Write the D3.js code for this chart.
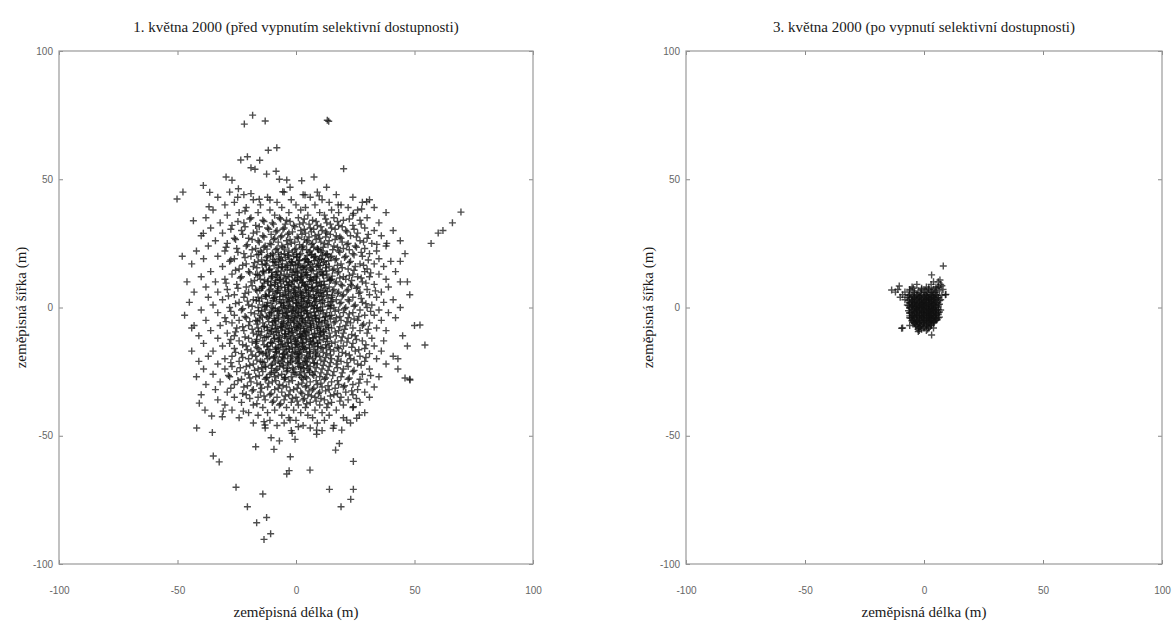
<!DOCTYPE html>
<html>
<head>
<meta charset="utf-8">
<script src="https://cdn.jsdelivr.net/npm/d3@7"></script>
<style>
  body { margin: 0; background: #fff; }
  .tick text { font-family: "Liberation Sans", Arial, sans-serif; font-size: 10px; fill: #666; }
  .ttl { font-family: "Liberation Serif", "Times New Roman", serif; fill: #1a1a1a; }
</style>
</head>
<body>
<div id="chart"></div>
<script>
// popisky
var titles = ["1. května 2000 (před vypnutím selektivní dostupnosti)",
              "3. května 2000 (po vypnutí selektivní dostupnosti)"];
var xLabel = "zeměpisná délka (m)";
var yLabel = "zeměpisná šířka (m)";
var tickVals = [-100, -50, 0, 50, 100];

// 1. kvetna - radky [y, x1, x2, ...] (odhad z obrazku)
var beforeRows = [
  [45, -28, -5, 9], [44, -22, 3, 17], [43, -33, -12, 6, 24], [42, -18, -2, 11, 31],
  [41, -26, -8, 14, 28], [40, -30, -15, 0, 8, 19], [39, -21, -6, 4, 22, 33],
  [38, -35, -11, 2, 15, 26], [37, -24, -16, -3, 10, 18, 38], [36, -29, -9, 5, 12, 24],
  [35, -38, -19, -7, 1, 16, 30], [34, -14, -4, 7, 20, 27], [33, -32, -22, -10, 3, 13, 35],
  [32, -27, -17, -1, 9, 18, 24], [31, -36, -12, -5, 6, 15, 29], [30, -23, -8, 2, 11, 21, 33, 41],
  [29, -31, -18, -3, 4, 13, 26], [28, -40, -14, -6, 8, 17, 23, 36], [27, -26, -20, -9, 1, 10, 19, 30],
  [26, -34, -16, -4, 5, 14, 27, 44], [25, -29, -11, -2, 7, 12, 22, 32],
  [24, -37, -21, -13, -6, 3, 16, 25, 38], [23, -25, -17, -8, 0, 9, 20, 29],
  [22, -42, -30, -15, -3, 6, 11, 18, 34], [21, -22, -10, -5, 2, 13, 24, 31, 46],
  [20, -33, -19, -12, -1, 8, 15, 21, 28], [19, -39, -26, -7, 4, 10, 17, 35],
  [18, -28, -16, -9, -2, 5, 12, 23, 40], [17, -44, -21, -13, -4, 1, 9, 19, 27, 33],
  [16, -31, -18, -6, 3, 7, 14, 25, 37], [15, -24, -11, -1, 6, 16, 22, 30],
  [14, -36, -20, -14, -8, 0, 11, 18, 29, 42], [13, -27, -17, -5, 4, 9, 13, 24, 35],
  [12, -40, -23, -10, -3, 2, 8, 20, 26, 31], [11, -30, -15, -7, 0, 6, 15, 21, 38],
  [10, -46, -34, -19, -12, -4, 3, 10, 17, 28, 44], [9, -25, -9, -2, 5, 12, 19, 23, 33],
  [8, -38, -21, -14, -6, 1, 7, 14, 26, 39], [7, -29, -17, -11, -3, 4, 9, 16, 22, 30],
  [6, -43, -33, -20, -8, -1, 2, 11, 18, 27, 36], [5, -26, -13, -5, 0, 6, 13, 20, 31, 48],
  [4, -37, -22, -16, -9, -2, 3, 8, 15, 24, 34], [3, -31, -18, -7, -4, 1, 10, 17, 22, 41],
  [2, -45, -24, -12, -6, 0, 5, 12, 19, 28, 37], [1, -35, -20, -14, -3, 2, 7, 14, 25, 32],
  [0, -28, -16, -10, -5, 0, 4, 9, 16, 21, 30, 44], [-1, -40, -23, -13, -7, -1, 3, 11, 18, 27, 35],
  [-2, -33, -19, -11, -4, 1, 6, 13, 20, 24, 39], [-3, -47, -26, -15, -8, -2, 2, 8, 15, 29, 33],
  [-4, -30, -21, -12, -5, 0, 5, 10, 17, 22, 42], [-5, -38, -24, -17, -9, -3, 3, 7, 12, 19, 26, 36],
  [-6, -27, -14, -6, -1, 4, 11, 16, 23, 31], [-7, -43, -32, -20, -10, -4, 1, 6, 13, 21, 28, 50],
  [-8, -25, -16, -8, -2, 2, 9, 15, 24, 34], [-9, -36, -22, -12, -6, 0, 5, 10, 18, 27, 38],
  [-10, -29, -18, -11, -3, 3, 8, 14, 20, 30], [-11, -41, -26, -15, -7, -1, 4, 12, 17, 25, 45],
  [-12, -33, -20, -9, -4, 2, 7, 13, 22, 32], [-13, -24, -14, -6, 0, 6, 10, 19, 28, 37],
  [-14, -39, -28, -17, -10, -2, 3, 9, 15, 24], [-15, -31, -21, -12, -5, 1, 8, 14, 20, 33, 47],
  [-16, -26, -16, -8, -3, 4, 11, 18, 29], [-17, -44, -35, -19, -11, -4, 2, 9, 16, 25, 36],
  [-18, -23, -14, -7, 0, 6, 13, 21, 31], [-19, -37, -27, -17, -9, -2, 5, 10, 18, 27, 41],
  [-20, -30, -20, -12, -5, 1, 7, 15, 23, 34], [-21, -41, -24, -15, -6, 0, 4, 12, 19, 29],
  [-22, -33, -18, -10, -3, 3, 9, 17, 26, 38], [-23, -27, -21, -13, -7, 1, 6, 14, 22],
  [-24, -39, -30, -16, -8, -1, 5, 11, 20, 31, 43], [-25, -25, -14, -4, 2, 8, 16, 24],
  [-26, -35, -20, -11, -6, 0, 7, 13, 28], [-27, -42, -28, -17, -9, -2, 4, 10, 19, 35],
  [-28, -23, -13, -5, 3, 12, 22, 27, 48], [-29, -32, -19, -10, -3, 6, 15, 30],
  [-30, -38, -26, -15, -7, 1, 9, 18, 24], [-31, -22, -12, -4, 4, 11, 20, 33],
  [-32, -34, -18, -9, -1, 7, 14, 26], [-33, -29, -15, -6, 2, 10, 21, 29],
  [-34, -40, -21, -11, -3, 5, 16, 24], [-35, -26, -16, -8, 0, 8, 19, 31],
  [-36, -33, -13, -5, 3, 12, 22], [-37, -23, -10, -2, 6, 15, 27],
  [-38, -30, -18, -7, 1, 10, 20], [-39, -14, -4, 4, 13, 24], [-40, -27, -9, -1, 8, 17],
  [-41, -20, -12, 2, 11, 29], [-42, -16, -6, 5, 14], [-43, -24, -3, 7, 20],
  [-44, -11, 0, 12], [-45, -18, -5, 9, 23], [-46, -8, 3, 16], [-47, -13, 6], [-48, -2, 11]
];
// 1. kvetna - hustsi stred, mezilehle radky
var beforeCore = [
  [34.5, -19.5, -6.5, 3.5, 12.5, 22.5], [33.5, -24.5, -13.5, -2.5, 8.5, 17.5],
  [32.5, -9.5, -4.5, 1.5, 5.5, 14.5, 27.5], [31.5, -21.5, -15.5, -0.5, 10.5, 19.5],
  [30.5, -27.5, -11.5, -5.5, 3.5, 7.5, 16.5, 24.5], [29.5, -16.5, -8.5, -1.5, 6.5, 12.5, 21.5],
  [28.5, -22.5, -10.5, -3.5, 2.5, 9.5, 14.5, 30.5], [27.5, -13.5, -6.5, 0.5, 5.5, 12.5, 18.5, 25.5],
  [26.5, -25.5, -18.5, -9.5, -2.5, 3.5, 8.5, 16.5], [25.5, -15.5, -7.5, -0.5, 4.5, 10.5, 19.5, 28.5],
  [24.5, -20.5, -10.5, -3.5, 1.5, 6.5, 13.5, 21.5], [23.5, -29.5, -13.5, -5.5, 2.5, 7.5, 11.5, 17.5, 25.5],
  [22.5, -18.5, -8.5, -0.5, 4.5, 9.5, 15.5, 22.5], [21.5, -24.5, -14.5, -7.5, -1.5, 5.5, 10.5, 18.5, 27.5],
  [20.5, -16.5, -9.5, -3.5, 1.5, 6.5, 12.5, 24.5], [19.5, -21.5, -12.5, -4.5, 0.5, 7.5, 14.5, 20.5],
  [18.5, -27.5, -14.5, -6.5, 1.5, 3.5, 9.5, 16.5, 30.5], [17.5, -17.5, -8.5, -1.5, 5.5, 11.5, 22.5],
  [16.5, -22.5, -12.5, -3.5, 0.5, 9.5, 17.5, 28.5], [15.5, -16.5, -7.5, -4.5, 2.5, 4.5, 12.5, 19.5],
  [14.5, -25.5, -11.5, -2.5, 6.5, 15.5, 24.5], [13.5, -19.5, -13.5, -8.5, 0.5, 2.5, 10.5, 17.5, 31.5],
  [12.5, -15.5, -6.5, -0.5, 4.5, 11.5, 22.5], [11.5, -23.5, -10.5, -4.5, 2.5, 8.5, 13.5, 18.5, 27.5],
  [10.5, -17.5, -8.5, -1.5, 0.5, 6.5, 14.5, 23.5], [9.5, -29.5, -13.5, -6.5, 2.5, 8.5, 16.5, 29.5],
  [8.5, -18.5, -10.5, -3.5, 3.5, 10.5, 19.5, 23.5], [7.5, -24.5, -14.5, -7.5, -0.5, 6.5, 12.5, 25.5],
  [6.5, -16.5, -11.5, -4.5, 4.5, 8.5, 15.5, 21.5, 33.5], [5.5, -21.5, -8.5, -2.5, 2.5, 9.5, 17.5, 26.5],
  [4.5, -28.5, -12.5, -5.5, 0.5, 5.5, 11.5, 19.5], [3.5, -14.5, -9.5, -1.5, 3.5, 7.5, 13.5, 27.5],
  [2.5, -20.5, -15.5, -3.5, 2.5, 8.5, 15.5, 22.5], [1.5, -25.5, -10.5, -6.5, 0.5, 4.5, 10.5, 18.5, 29.5],
  [0.5, -18.5, -12.5, -2.5, 2.5, 6.5, 13.5, 24.5], [-0.5, -22.5, -9.5, -4.5, 0.5, 7.5, 14.5, 20.5],
  [-1.5, -27.5, -14.5, -7.5, -1.5, 3.5, 9.5, 16.5, 31.5], [-2.5, -17.5, -10.5, -5.5, 4.5, 11.5, 22.5],
  [-3.5, -21.5, -12.5, -3.5, 0.5, 6.5, 12.5, 18.5, 26.5], [-4.5, -15.5, -7.5, -1.5, 2.5, 8.5, 14.5, 24.5],
  [-5.5, -29.5, -19.5, -11.5, -5.5, 1.5, 9.5, 16.5, 21.5], [-6.5, -16.5, -8.5, -3.5, 2.5, 7.5, 13.5, 28.5],
  [-7.5, -22.5, -13.5, -6.5, -0.5, 4.5, 10.5, 18.5], [-8.5, -18.5, -10.5, -4.5, 0.5, 6.5, 12.5, 20.5, 30.5],
  [-9.5, -25.5, -14.5, -7.5, -1.5, 3.5, 11.5, 16.5], [-10.5, -16.5, -9.5, -4.5, 1.5, 5.5, 10.5, 23.5],
  [-11.5, -21.5, -12.5, -2.5, 2.5, 8.5, 14.5, 19.5], [-12.5, -27.5, -16.5, -7.5, -0.5, 4.5, 11.5, 25.5],
  [-13.5, -18.5, -10.5, -3.5, 2.5, 7.5, 16.5, 21.5], [-14.5, -22.5, -13.5, -6.5, 0.5, 5.5, 12.5, 29.5],
  [-15.5, -16.5, -8.5, -1.5, 3.5, 10.5, 17.5, 23.5], [-16.5, -20.5, -11.5, -5.5, 1.5, 7.5, 14.5, 26.5],
  [-17.5, -25.5, -15.5, -8.5, -1.5, 4.5, 11.5, 19.5], [-18.5, -18.5, -12.5, -3.5, 2.5, 8.5, 14.5, 22.5],
  [-19.5, -22.5, -9.5, -5.5, 0.5, 5.5, 12.5, 29.5], [-20.5, -16.5, -7.5, -1.5, 3.5, 10.5, 17.5, 24.5],
  [-21.5, -27.5, -13.5, -3.5, 1.5, 7.5, 14.5, 21.5], [-22.5, -19.5, -10.5, -5.5, 4.5, 11.5, 27.5],
  [-23.5, -23.5, -14.5, -1.5, 2.5, 8.5, 17.5], [-24.5, -17.5, -8.5, -3.5, 5.5, 13.5, 24.5],
  [-25.5, -21.5, -10.5, -0.5, 3.5, 10.5, 19.5], [-26.5, -28.5, -15.5, -7.5, 1.5, 7.5, 15.5, 31.5],
  [-27.5, -19.5, -12.5, -4.5, 4.5, 12.5, 22.5], [-28.5, -24.5, -8.5, -1.5, 8.5, 17.5],
  [-29.5, -16.5, -11.5, 2.5, 10.5, 26.5], [-30.5, -20.5, -5.5, 4.5, 13.5, 20.5],
  [-31.5, -27.5, -14.5, -7.5, 0.5, 7.5, 16.5], [-32.5, -18.5, -2.5, 5.5, 12.5, 23.5],
  [-33.5, -22.5, -10.5, 2.5, 9.5, 17.5], [-34.5, -13.5, -4.5, 6.5, 14.5],
  [-35.5, -19.5, -1.5, 3.5, 10.5, 25.5], [-36.5, -9.5, 0.5, 8.5, 18.5], [-37.5, -16.5, -6.5, 4.5, 13.5],
  // nejhustsi cast
  [20.25, -10.75, -3.25, 4.75, 11.25], [19.75, -7.25, 0.25, 8.25],
  [18.25, -12.25, -5.75, 1.25, 7.75, 13.75], [17.75, -9.75, -1.75, 5.25],
  [16.25, -9.25, -2.25, 3.75, 10.25], [15.75, -5.75, 1.75, 8.75],
  [14.25, -13.75, -6.25, 0.75, 7.25, 12.75], [13.75, -10.25, -1.25, 4.25],
  [12.25, -10.25, -3.75, 2.25, 8.75, 15.25], [11.75, -7.75, 0.75, 6.25],
  [10.25, -11.75, -5.25, -0.75, 5.75, 11.75], [9.75, -8.75, -2.75, 2.75, 8.75],
  [8.25, -14.25, -7.75, -1.25, 4.25, 9.25], [7.75, -4.75, 1.25, 6.75],
  [6.25, -9.75, -3.25, 1.75, 7.25, 13.25], [5.75, -6.75, -0.25, 4.25, 10.25],
  [4.25, -12.75, -6.75, -0.25, 5.25, 10.75], [3.75, -9.25, -3.25, 2.25, 7.75],
  [2.25, -8.25, -2.75, 3.25, 8.25, 14.75], [1.75, -5.25, 0.25, 5.75],
  [0.25, -13.25, -6.25, -1.25, 4.75, 11.25], [-0.25, -8.75, -3.25, 2.25, 8.75],
  [-1.75, -10.25, -3.75, 1.25, 7.75], [-2.25, -5.75, -0.25, 4.75],
  [-3.75, -14.25, -7.25, -0.75, 5.25, 12.25], [-4.25, -9.25, -3.25, 2.75, 8.25],
  [-5.75, -9.75, -2.25, 3.75, 9.75], [-6.25, -5.25, 0.75, 6.25],
  [-7.75, -12.25, -5.75, 0.25, 6.25, 13.75], [-8.25, -8.75, -2.75, 3.25, 9.25],
  [-9.75, -8.25, -1.75, 4.25, 10.25], [-10.25, -4.75, 1.75, 7.75],
  [-11.75, -13.25, -6.75, 0.75, 7.25], [-12.25, -9.25, -2.25, 4.25],
  [-13.75, -10.75, -3.25, 2.75, 9.25], [-14.25, -5.75, 0.25, 6.75],
  [-15.75, -7.25, -0.25, 5.75, 12.75], [-16.25, -8.75, -2.75, 3.25],
  [-17.75, -12.75, -4.75, 1.25, 8.25], [-18.25, -5.25, 0.75],
  [-19.75, -9.25, -2.25, 4.25], [-21.75, -6.75, 0.75, 7.75], [-23.75, -10.25, -3.75, 3.25],
  [22.75, -12.25, -4.75, 2.75, 9.25], [20.75, -15.75, -6.25, 0.25, 6.75, 13.25],
  [18.75, -9.75, -2.75, 4.25, 10.75], [16.75, -14.25, -7.25, -0.25, 6.25, 12.75],
  [14.75, -11.25, -3.75, 3.25, 9.75], [12.75, -16.25, -8.25, -1.75, 4.75, 11.25],
  [10.75, -13.25, -6.75, 1.75, 7.25, 14.25], [8.75, -10.75, -3.25, 3.75, 10.75],
  [6.75, -15.25, -7.75, -0.75, 5.25, 11.75], [4.75, -11.25, -4.25, 2.25, 8.75, 15.25],
  [2.75, -16.75, -9.75, -1.25, 5.25, 11.25], [0.75, -12.25, -5.25, 1.25, 7.75, 14.75],
  [-1.25, -15.75, -7.75, -1.75, 4.25, 10.25], [-3.25, -11.25, -4.25, 2.25, 8.25, 14.25],
  [-5.25, -16.25, -8.75, -0.75, 5.75, 12.25], [-7.25, -13.25, -6.25, 1.75, 8.75],
  [-9.25, -15.75, -10.25, -3.25, 3.75, 11.75], [-11.25, -11.75, -4.75, 2.25, 9.75],
  [-13.25, -16.75, -7.25, -0.25, 6.25, 13.25], [-15.25, -12.25, -4.25, 2.75, 9.25],
  [-17.25, -14.75, -8.25, -0.75, 5.75], [-19.25, -11.25, -5.75, 1.25, 8.25],
  [-21.25, -14.25, -8.75, -2.25, 4.75], [-23.25, -12.75, -5.25, 1.75],
  [-25.25, -9.25, -1.25, 5.75], [-27.25, -12.25, -4.75, 2.25]
];
// 1. kvetna - odlehle body [x, y]
var beforeOut = [
  [-21.8, 71.5], [-18.3, 75], [-13, 72.7], [13.2, 73], [13.8, 72.6], [-11.7, 61.3], [-8.1, 62.3],
  [-23.3, 57.5], [-20.5, 58.8], [-15.3, 57.4], [20.1, 54.1], [-39.1, 47.6], [-36.4, 44.9],
  [-36.7, 39.3], [-43.3, 33.8], [-39.1, 28.9], [-29.5, 50.9], [-27, 49.6], [-19, 54.5],
  [-17.3, 53.9], [-12.4, 52], [-8.4, 53.1], [-7, 50], [-3.9, 49.7], [2.4, 49.4], [7.6, 50.9],
  [12.9, 46.9], [29.8, 41.2], [27.7, 38.4], [-24.3, 46.3], [-19, 44.4], [-24.6, 43],
  [-21.5, 37.6], [-15.5, 42.2], [-11, 41.9], [-5.6, 45.1], [-2.5, 46.9], [3.8, 43.9],
  [9.8, 43.5], [17.8, 40], [24.2, 36.7], [38.3, 25], [34.1, 24.6], [-50.2, 42.3], [-47.7, 45],
  [57, 25], [60, 29], [62, 30], [66, 33], [69.6, 37.2], [48.1, -28.3], [46, -27.5],
  [54.4, -14.6], [52.3, -6.8], [44, 18], [47, 10], [43, -20], [-48, 20], [-44, -8],
  [-41.9, -47], [-35.3, -48.7], [-34.9, -57.9], [-32.4, -60.2], [-25.3, -70.1], [-20.5, -77.7],
  [-14, -72.7], [-16.6, -83.9], [-12.4, -81.9], [-13.5, -90.4], [-10.7, -88.2], [-17, -54.3],
  [-10.5, -50.8], [-9.3, -55.3], [-7, -52], [-2.4, -58.2], [-3.9, -64.9], [-2.9, -63.6],
  [5.9, -63.4], [-0.4, -51.4], [-1.6, -49], [14.1, -70.9], [24.2, -70.9], [23.1, -74.8],
  [19, -77.7], [24.2, -60], [18.3, -53], [16.7, -55.6], [8.7, -49.4], [21.4, -43.9],
  [25.6, -43.2], [26.7, -41.9], [24.2, -38.7], [-22.2, -40.4], [-30.7, -40.4], [-31.1, -42.6],
  [-35.6, -42.3], [-38.4, -40], [-40.8, -37.3], [15.7, -47.1], [19.3, -47.8], [-13.1, -45.8],
  [-13.5, -44.5], [8.7, -47.8], [1, -46.5], [-2.5, -43.9]
];

// 3. kvetna - radky [y, x1, x2, ...]
var afterRows = [
  [10, 4, 6], [9, -3, 3, 7], [8, -5, 1, 5, 6], [7, -11, -6, -1, 2, 4, 8],
  [6, -12, -8, -4, 0, 3, 5], [5, -9, -6, -3, -1, 1, 3, 5, 9],
  [4.5, -5, -2, 1, 4], [4, -10, -7, -4, -2, 0, 2, 4, 6], [3.5, -4, -1, 2, 5],
  [3, -8, -5, -3, -1, 1, 2, 4, 7], [2.5, -5, -2, 0, 3], [2, -6, -4, -2, 0, 1, 3, 5],
  [1.5, -4, -1, 2, 4], [1, -7, -5, -3, -1, 0, 2, 4, 6], [0.5, -5, -2, 1, 3],
  [0, -6, -4, -2, -1, 1, 3, 5], [-0.5, -3, 0, 2, 4], [-1, -5, -3, -2, 0, 2, 3, 5, 7],
  [-1.5, -4, -1, 1, 4], [-2, -6, -4, -1, 0, 1, 3, 6], [-2.5, -3, 0, 2, 5],
  [-3, -5, -3, -2, 0, 2, 4, 5], [-3.5, -4, -1, 1, 3], [-4, -6, -4, -1, 1, 2, 4, 6],
  [-4.5, -2, 0, 3, 5], [-5, -5, -3, -1, 0, 2, 3, 5], [-5.5, -3, 1, 4],
  [-6, -4, -2, 0, 1, 3, 4], [-7, -6, -3, -1, 1, 3], [-8, -9, -2, 0, 2, 4], [-9, -2, 1],
  // hustsi jadro
  [7.5, -4.5, -1, 2, 5.5], [6.5, -6, -2.5, 0.5, 3.5, 6.5], [5.75, -4, -1.5, 1.5, 4.5],
  [4.75, -6.5, -3, 0, 2.5, 5.5, 7.5], [4.25, -4.5, -1.5, 1.5, 3.5], [3.75, -6, -2.5, 0.5, 3, 6],
  [3.25, -4, -1, 2, 4.5], [2.75, -6.5, -3.5, 0.5, 3.5, 6.5], [2.25, -5, -1.5, 1.5, 4.5],
  [1.75, -6, -3, -0.5, 2.5, 5.5], [1.25, -4.5, -1.5, 1, 3.5, 6.5], [0.75, -6.5, -3.5, -0.5, 2, 5],
  [0.25, -5, -2.5, 0.5, 3.5, 6], [-0.25, -6, -3.5, -1, 1.5, 4.5], [-0.75, -4.5, -1.5, 1, 3.5, 6],
  [-1.25, -6.5, -3, 0, 2.5, 5], [-1.75, -5, -2, 1.5, 4, 6.5], [-2.25, -6, -3.5, -0.5, 2.5, 5],
  [-2.75, -4.5, -1.5, 1, 3.5, 6], [-3.25, -6, -3, 0, 2.5, 4.5], [-3.75, -5, -2, 1.5, 4, 6.5],
  [-4.25, -5.5, -3.5, -0.5, 2.5, 5], [-4.75, -4.5, -1.5, 1, 3.5, 5.5], [-5.25, -5, -3, 0, 2.5, 4.5],
  [-5.75, -4.5, -2, 1.5, 4], [-6.25, -4, -2.5, -0.5, 2.5], [-6.75, -3.5, -1.5, 1, 3],
  [-7.5, -3.5, -1.5, 0, 2], [-8.5, -2.5, -1, 1.5]
];
var afterOut = [
  [8.1, 16.2], [3.2, 12.7], [-13.6, 6.8], [-10.4, 8.4], [-9.4, -8.1], [-2.4, -9.4],
  [3.2, -10.7], [9.2, 5.1], [6.7, 10.7], [7.5, 8.5]
];

function flat(rows) {
  var out = [];
  rows.forEach(function (r) {
    for (var i = 1; i < r.length; i++) out.push([r[i], r[0]]);
  });
  return out;
}

var svg = d3.select("#chart").append("svg")
    .attr("width", 1172)
    .attr("height", 626);

var panels = [
  {left: 59, right: 533, title: titles[0], pts: flat(beforeRows).concat(flat(beforeCore), beforeOut)},
  {left: 686, right: 1162, title: titles[1], pts: flat(afterRows).concat(afterOut)}
];
var plotTop = 51, plotBottom = 564;

panels.forEach(function (p) {
  var x = d3.scaleLinear().domain([-100, 100]).range([p.left, p.right]);
  var y = d3.scaleLinear().domain([-100, 100]).range([plotBottom, plotTop]);
  var g = svg.append("g");

  // body (+)
  g.selectAll("path.pt")
    .data(p.pts)
    .enter()
      .append("path")
      .attr("class", "pt")
      .attr("d", d => "M" + (x(d[0]) - 3.5) + "," + y(d[1]) + "h7M" + x(d[0]) + "," + (y(d[1]) - 3.5) + "v7")
      .attr("fill", "none")
      .attr("stroke", "#111")
      .attr("stroke-opacity", 0.75)
      .attr("stroke-width", 1.4);

  // osy
  var fmt = d => String(d);
  g.append("g")
    .attr("transform", "translate(0," + plotBottom + ")")
    .call(d3.axisBottom(x).tickValues(tickVals).tickSizeInner(-4).tickSizeOuter(0).tickPadding(23).tickFormat(fmt));
  g.append("g")
    .attr("transform", "translate(0," + plotTop + ")")
    .call(d3.axisTop(x).tickValues(tickVals).tickSizeInner(-4).tickSizeOuter(0).tickFormat(""));
  g.append("g")
    .attr("transform", "translate(" + p.left + ",0)")
    .call(d3.axisLeft(y).tickValues(tickVals).tickSizeInner(-4).tickSizeOuter(0).tickPadding(6).tickFormat(fmt));
  g.append("g")
    .attr("transform", "translate(" + p.right + ",0)")
    .call(d3.axisRight(y).tickValues(tickVals).tickSizeInner(-4).tickSizeOuter(0).tickFormat(""));
  g.selectAll(".domain").remove();
  g.selectAll(".tick line").attr("stroke", "#888");

  g.append("rect")
    .attr("x", p.left).attr("y", plotTop)
    .attr("width", p.right - p.left).attr("height", plotBottom - plotTop)
    .attr("fill", "none").attr("stroke", "#999").attr("stroke-width", 1.2);

  var cx = (p.left + p.right) / 2;
  g.append("text").attr("class", "ttl")
    .attr("x", cx).attr("y", 32)
    .attr("text-anchor", "middle").style("font-size", "15px")
    .text(p.title);
  g.append("text").attr("class", "ttl")
    .attr("x", cx).attr("y", 617)
    .attr("text-anchor", "middle").style("font-size", "15px")
    .text(xLabel);
  g.append("text").attr("class", "ttl")
    .attr("transform", "translate(" + (p.left - 33) + "," + (plotTop + plotBottom) / 2 + ") rotate(-90)")
    .attr("text-anchor", "middle").style("font-size", "15px")
    .text(yLabel);
});
</script>
</body>
</html>
